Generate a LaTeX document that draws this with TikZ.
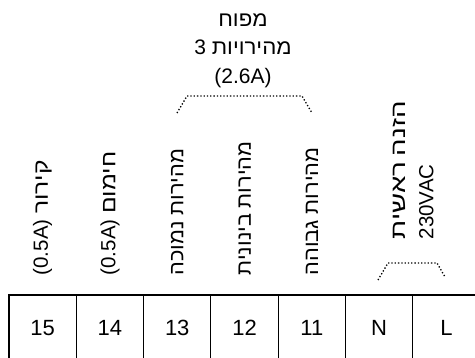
\documentclass[tikz,border=0pt]{standalone}
\usepackage{fontspec}
\setmainfont{Liberation Sans}
\newfontfamily\heb[Script=Hebrew,FakeStretch=1.06]{Liberation Sans}
\newfontfamily\hebw[Script=Hebrew,FakeStretch=1.2]{Liberation Sans}
\newfontfamily\hebx[Script=Hebrew,FakeStretch=1.35]{Liberation Sans}
\TeXXeTstate=1

\begin{document}
\begin{tikzpicture}[x=1pt,y=-1pt,
  cell/.style={draw, line width=1.1pt, minimum width=67.3pt, minimum height=66pt,
    inner sep=0pt, font=\fontsize{22}{26}\selectfont},
  lbl/.style={rotate=90, anchor=west, inner sep=0pt,
    font=\fontsize{20.5}{28}\selectfont},
  title/.style={align=center, inner sep=0pt, font=\fontsize{21}{28.5}\selectfont},
  bracket/.style={line width=1.3pt, dash pattern=on 1.3pt off 2pt}]
  \useasboundingbox (0,0) rectangle (475,358);
  \fill[white] (0,0) rectangle (475,358);
  \clip (0,0) rectangle (475,358);

  % terminal strip
  \foreach \num [count=\i] in {15,14,13,12,11,N,L}
    \node[cell] (t\num) at (9+67.3*\i-33.65,328) {\num};

  % labels above the terminals
  \foreach \num/\txt in {15/{\beginR{\hebw קירור} \beginL(0.5A)\endL\endR},
                         14/{\beginR{\hebw חימום} \beginL(0.5A)\endL\endR},
                         13/{\beginR{\heb מהירות} {\heb נמוכה}\endR},
                         12/{\beginR{\heb מהירות} {\heb בינונית}\endR},
                         11/{\beginR{\heb מהירות} {\heb גבוהה}\endR}}
    \node[lbl] (l\num) at ([yshift=19pt]t\num.north) {\txt};
  \node[lbl, align=left] (lfeed) at ([yshift=55pt]tN.north east)
    {\beginR{\hebx הזנה} {\hebx ראשית}\endR\\230VAC};

  % fan
  \node[title] (fan) at (243,50.5)
    {{\heb מפוח}\\3 {\heb מהירויות}\\(2.6A)};

  \draw[bracket] (177,113) -- (187,96) -- (302,96) -- (312,113);
  \draw[bracket] (378,280) -- (388,263) -- (437,263) -- (445,277);
\end{tikzpicture}
\end{document}
